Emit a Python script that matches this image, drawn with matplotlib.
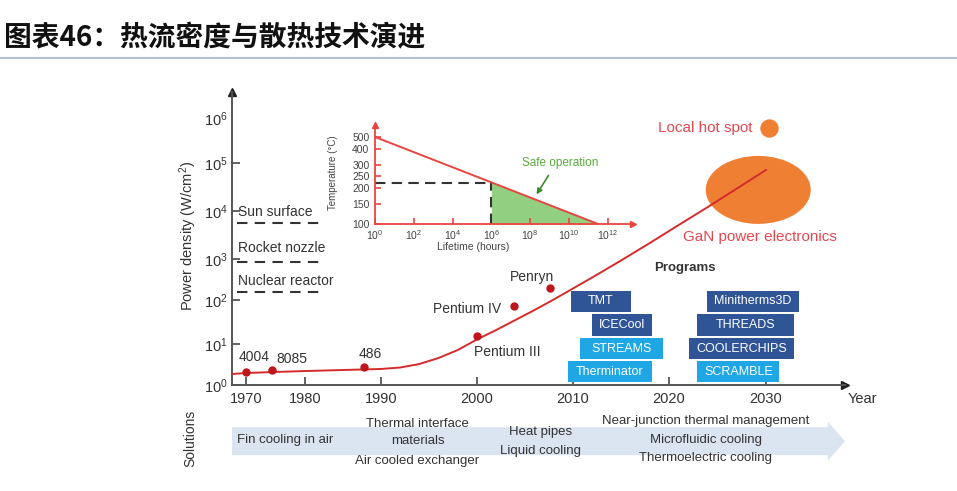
import numpy as np
import matplotlib
matplotlib.use('Agg')
import matplotlib.pyplot as plt
from matplotlib.patches import Ellipse, FancyArrow
from matplotlib.transforms import ScaledTranslation
from matplotlib.lines import Line2D
from matplotlib.ticker import NullLocator

plt.rcParams['font.family'] = ['Liberation Sans', 'Noto Sans CJK SC', 'DejaVu Sans']
plt.rcParams['mathtext.fontset'] = 'custom'
plt.rcParams['mathtext.rm'] = 'Liberation Sans'
plt.rcParams['mathtext.it'] = 'Liberation Sans:italic'
plt.rcParams['mathtext.bf'] = 'Liberation Sans:bold'

# power density trend (W/cm2)
curve_year = [1967.6, 1970, 1975, 1980, 1985, 1990, 1992, 1994, 1996, 1998, 2000,
              2002, 2004, 2006, 2008, 2010, 2012, 2015, 2018, 2021, 2024, 2027, 2030]
curve_density = [1.85, 1.96, 2.08, 2.19, 2.32, 2.46, 2.67, 3.25, 4.56, 7.14, 12.7,
                 20.8, 35.1, 59.3, 103, 191, 354, 918, 2150, 5110, 12100, 29400, 71500]

chip_names = ['4004', '8085', '486', 'Pentium III', 'Pentium IV', 'Penryn']
chip_year = [1970, 1974.4, 1987.8, 2000, 2003.9, 2007.6]
chip_density = [2.1, 2.3, 2.75, 15, 73, 195]

ref_names = ['Sun surface', 'Rocket nozzle', 'Nuclear reactor']
ref_density = [5600, 850, 156]

gan_year, gan_density = 2029.2, 27500
hotspot_year, hotspot_density = 2030.3, 600000

prog_names = ['TMT', 'ICECool', 'STREAMS', 'Therminator',
              'Minitherms3D', 'THREADS', 'COOLERCHIPS', 'SCRAMBLE']
prog_start = [2009.8, 2012.0, 2010.7, 2009.5, 2023.9, 2022.9, 2022.1, 2022.9]
prog_end = [2016.0, 2018.2, 2019.4, 2018.2, 2033.4, 2032.9, 2032.9, 2031.4]
prog_row = [0, 1, 2, 3, 0, 1, 2, 3]
prog_light = [False, False, True, True, False, False, False, True]
row_top = [165, 48, 13.7, 3.85]
row_bottom = [53.4, 15.2, 4.3, 1.18]

sol_groups = [['Fin cooling in air'],
              ['Thermal interface', 'materials', 'Air cooled exchanger'],
              ['Heat pipes', 'Liquid cooling'],
              ['Near-junction thermal management', 'Microfluidic cooling',
               'Thermoelectric cooling']]
sol_year = [1976.6, 1993.8, 2006.6, 2023.8]

# inset: lifetime vs temperature
life_hours = [1, 10 ** 11.5]
life_temp = [500, 100]
safe_hours, safe_temp = 1e6, 222
inset_xticks = [10 ** k for k in range(0, 13, 2)]
inset_yticks = [100, 150, 200, 250, 300, 400, 500]

# --- axis scales (the original figure has uneven spacing) ---
yr_anchor = [1967.6, 1970, 1980, 1990, 2000, 2010, 2020, 2030, 2038.2]
px_anchor = [232, 246, 305, 381, 477, 573, 669, 766, 845]
dec_log = [-6, 0, 1, 2, 3, 4, 5, 6, 6.58, 12]
dec_px = [-246, 0, 41, 85, 126, 174, 222, 267, 293, 537]


def yr_fwd(x):
    return np.interp(x, yr_anchor, px_anchor)


def yr_inv(p):
    return np.interp(p, px_anchor, yr_anchor)


def dens_fwd(v):
    v = np.clip(np.asarray(v, dtype=float), 1e-6, None)
    return np.interp(np.log10(v), dec_log, dec_px)


def dens_inv(p):
    return 10 ** np.interp(p, dec_px, dec_log)


def arr_fwd(t):
    with np.errstate(divide='ignore', invalid='ignore'):
        return -1.0 / (np.asarray(t, dtype=float) + 273.15)


def arr_inv(u):
    with np.errstate(divide='ignore', invalid='ignore'):
        return -1.0 / np.asarray(u, dtype=float) - 273.15


W, H = 957, 491
fig = plt.figure(figsize=(W / 100, H / 100), dpi=100)

fig.text(0.004, 1 - 38 / H, '图表46：热流密度与散热技术演进', fontsize=20,
         fontweight='bold', family=['Noto Sans CJK SC', 'DejaVu Sans'],
         ha='left', va='center', color='#111111')
fig.add_artist(Line2D([0, 1], [1 - 58 / H] * 2, transform=fig.transFigure,
                      color='#b4c0cc', lw=1.6))

axis_col = '#555555'
txt_col = '#333333'

ax = fig.add_axes([232 / W, (H - 385) / H, (845 - 232) / W, (385 - 92) / H])
ax.set_xscale('function', functions=(yr_fwd, yr_inv))
ax.set_yscale('function', functions=(dens_fwd, dens_inv))
ax.set_xlim(1967.6, 2038.2)
ax.set_ylim(1, 10 ** 6.58)
for s in ['top', 'right']:
    ax.spines[s].set_visible(False)
for s in ['left', 'bottom']:
    ax.spines[s].set_color(axis_col)
    ax.spines[s].set_linewidth(1.4)
ax.plot([1], [0], marker='>', ms=6, color='#222222', transform=ax.transAxes, clip_on=False)
ax.plot([0], [1], marker='^', ms=6, color='#222222', transform=ax.transAxes, clip_on=False)

ax.set_xticks([1970, 1980, 1990, 2000, 2010, 2020, 2030])
ax.set_xticklabels(['1970', '1980', '1990', '2000', '2010', '2020', '2030'])
ax.set_yticks([10 ** k for k in range(7)])
ax.set_yticklabels([r'$10^{%d}$' % k for k in range(7)])
ax.xaxis.set_minor_locator(NullLocator())
ax.yaxis.set_minor_locator(NullLocator())
ax.tick_params(direction='in', length=6, width=1.3, color=axis_col,
               labelsize=10.5, labelcolor=txt_col)
ax.tick_params(axis='x', pad=5)
ax.tick_params(axis='y', pad=3)
ax.yaxis.get_major_ticks()[-1].tick1line.set_visible(False)

fig.text(848 / W, 1 - 399 / H, 'Year', ha='left', va='center', fontsize=10.5, color=txt_col)
fig.text(188 / W, 1 - 236 / H, 'Power density (W/cm$^2$)', rotation=90,
         ha='center', va='center', fontsize=10.5, color=txt_col)

# GaN ellipse and hot spot
ell = Ellipse((0, 0), 1.05, 0.68, color='#ef8033', lw=0, zorder=2,
              transform=fig.dpi_scale_trans + ScaledTranslation(gan_year, gan_density, ax.transData))
ax.add_patch(ell)
ax.scatter([hotspot_year], [hotspot_density], s=175, color='#ef8033', lw=0, zorder=2)
ax.annotate('Local hot spot', (hotspot_year, hotspot_density), xytext=(-12, 0),
            textcoords='offset points', ha='right', va='center', fontsize=11, color='#e6474f')
ax.annotate('GaN power electronics', (gan_year, gan_density), xytext=(1, -34),
            textcoords='offset points', ha='center', va='center', fontsize=11, color='#e6474f')

# trend line and chips
ax.plot(curve_year, curve_density, color='#d42b2b', lw=1.4, zorder=3)
ax.plot(chip_year, chip_density, 'o', ms=5, color='#be161c', zorder=4)
chip_offsets = [(5.8, 10.8), (14.4, 7.9), (4.3, 9.4), (21.6, -11.5), (-33.8, -2.2), (-13, 7.9)]
for name, x, y, off in zip(chip_names, chip_year, chip_density, chip_offsets):
    ax.annotate(name, (x, y), xytext=off, textcoords='offset points',
                ha='center', va='center', fontsize=10, color=txt_col)

# reference levels
ax.hlines(ref_density, 1968.5, 1982.0, colors='#333333', lw=1.5, linestyles=(0, (5, 3.5)))
for name, y, dy in zip(ref_names, ref_density, [8, 10, 8]):
    ax.annotate(name, (1968.6, y), xytext=(0, dy), textcoords='offset points',
                ha='left', va='center', fontsize=10, color=txt_col)

# programs
ax.text(2021.6, 600, 'Programs', ha='center', va='center', fontsize=9.5,
        fontweight='bold', color=txt_col)
for name, x0, x1, r, light in zip(prog_names, prog_start, prog_end, prog_row, prog_light):
    col = '#1ea7e4' if light else '#2f5597'
    ax.broken_barh([(x0, x1 - x0)], (row_bottom[r], row_top[r] - row_bottom[r]),
                   facecolors=col, edgecolor='none', zorder=3, clip_on=False)
    ax.text((x0 + x1) / 2, np.sqrt(row_top[r] * row_bottom[r]), name, ha='center',
            va='center', fontsize=9, color='white', zorder=4)

# solutions band
sol = fig.add_axes([232 / W, (H - 475) / H, (845 - 232) / W, 65 / H], sharex=ax)
sol.axis('off')
sol.add_patch(FancyArrow(-0.007, 0.52, 1.007, 0, width=0.43, head_width=0.6,
                         head_length=0.028, length_includes_head=True,
                         transform=sol.transAxes, color='#dbe4f1', lw=0))
sol_rows = [[0.54], [0.785, 0.52, 0.215], [0.66, 0.37], [0.83, 0.54, 0.26]]
for lines, x, ys in zip(sol_groups, sol_year, sol_rows):
    for s, y in zip(lines, ys):
        sol.text(x, y, s, transform=sol.get_xaxis_transform(), ha='center',
                 va='center', fontsize=9.5, color=txt_col)
fig.text(190 / W, 1 - 438 / H, 'Solutions', rotation=90, ha='center', va='center',
         fontsize=10, color=txt_col)

# inset
red = '#e8453f'
ins = fig.add_axes([375 / W, (H - 224) / H, (633 - 375) / W, (224 - 125) / H])
ins.patch.set_alpha(0)
ins.set_xscale('log')
ins.set_yscale('function', functions=(arr_fwd, arr_inv))
ins.set_xlim(1, 10 ** 13.3)
ins.set_ylim(100, 634)
for s in ['top', 'right']:
    ins.spines[s].set_visible(False)
for s in ['left', 'bottom']:
    ins.spines[s].set_color(red)
    ins.spines[s].set_linewidth(1.3)
ins.plot([1], [0], marker='>', ms=4.5, color=red, transform=ins.transAxes, clip_on=False)
ins.plot([0], [1], marker='^', ms=4.5, color=red, transform=ins.transAxes, clip_on=False)
ins.set_xticks(inset_xticks)
ins.set_xticklabels([r'$10^{%d}$' % k for k in range(0, 13, 2)])
ins.set_yticks(inset_yticks)
ins.set_yticklabels([str(v) for v in inset_yticks])
ins.xaxis.set_minor_locator(NullLocator())
ins.yaxis.set_minor_locator(NullLocator())
ins.tick_params(direction='in', length=4, width=1.2, color=red, labelsize=7.5,
                labelcolor='#444444')
ins.tick_params(axis='x', pad=3)
ins.tick_params(axis='y', pad=4)

ins.fill_between([safe_hours, life_hours[1]], [safe_temp, life_temp[1]], 100,
                 color='#93cf80', lw=0, zorder=1)
ins.plot(life_hours, life_temp, color=red, lw=1.4, zorder=3)
ins.plot([1, safe_hours], [safe_temp, safe_temp], color='#333333', lw=1.5,
         ls=(0, (5, 3)), zorder=2)
ins.plot([safe_hours, safe_hours], [100, safe_temp], color='#333333', lw=1.5,
         ls=(0, (5, 3)), zorder=2)
ins.text(3.4e9, 312, 'Safe operation', ha='center', va='center', fontsize=8.5,
         color='#5aaa3c')
ins.annotate('', xy=(10 ** 8.25, 172), xytext=(10 ** 9.02, 262),
             arrowprops=dict(arrowstyle='-|>', color='#3c8a2e', lw=1.2, mutation_scale=8))
fig.text(333 / W, 1 - 173 / H, 'Temperature (°C)', rotation=90, ha='center',
         va='center', fontsize=7, color='#444444')
fig.text(473 / W, 1 - 247 / H, 'Lifetime (hours)', ha='center', va='center',
         fontsize=7.5, color='#444444')

fig.savefig('out.png', dpi=100)
